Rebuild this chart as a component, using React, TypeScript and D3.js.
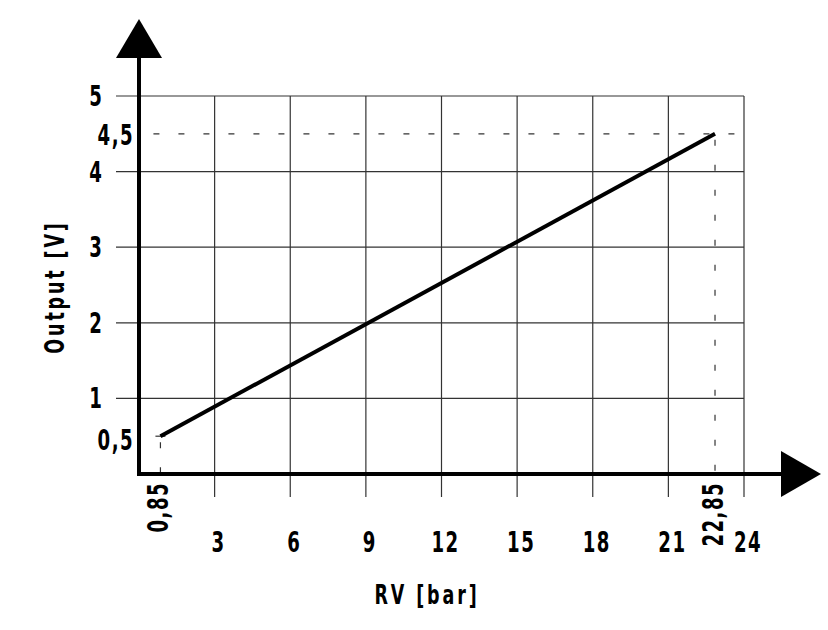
import React from 'react';
import * as d3 from 'd3';

// chart values
const lineX = [0.85, 22.85];
const lineY = [0.5, 4.5];
const xTicks = [3, 6, 9, 12, 15, 18, 21, 24];
const yTicks = [1, 2, 3, 4, 5];
const xMarks = [0.85, 22.85];
const yMarks = [0.5, 4.5];
const xTitle = 'RV [bar]';
const yTitle = 'Output [V]';

const W = 828;
const H = 630;
const FONT = '"DejaVu Sans Condensed", "DejaVu Sans", sans-serif';
const SQ = 0.72; // narrow technical lettering

const fmt = (v: number) => String(v).replace('.', ',');

const Label = ({ x, y, text, anchor = 'middle', rotate = 0, size = 28, spacing = 1 }: any) => (
  <text
    transform={`translate(${x},${y}) rotate(${rotate}) scale(${SQ},1)`}
    textAnchor={anchor}
    fontFamily={FONT}
    fontWeight="bold"
    fontSize={size}
    letterSpacing={spacing}
    fill="#000"
  >
    {text}
  </text>
);

export default function App() {
  const x = d3.scaleLinear().domain([0, 24]).range([139, 744]);
  const y = d3.scaleLinear().domain([0, 5]).range([474, 96]);

  const line = d3.line<number>()
    .x((_, i) => x(lineX[i]))
    .y((d) => y(d));

  const x0 = x(0);
  const y0 = y(0);
  const xEnd = x(24);
  const yTop = y(5);

  return (
    <svg width={W} height={H} style={{ position: 'absolute', left: 0, top: 0, background: '#fff' }}>
      {/* grid */}
      <g stroke="#333" strokeWidth={1.2}>
        {yTicks.map((t) => (
          <line key={'h' + t} x1={x0 - 23} x2={xEnd} y1={y(t)} y2={y(t)} />
        ))}
        {xTicks.map((t) => (
          <line key={'v' + t} x1={x(t)} x2={x(t)} y1={yTop} y2={y0 + 23} />
        ))}
      </g>

      {/* reference dashes */}
      <g stroke="#333" strokeWidth={1.2} strokeDasharray="6,19" fill="none">
        <line x1={x(xMarks[0]) - 7} x2={xEnd + 4} y1={y(yMarks[1])} y2={y(yMarks[1])} />
        <line x1={x(xMarks[1])} x2={x(xMarks[1])} y1={y(yMarks[1]) + 6} y2={y0} />
        <line x1={x(xMarks[0])} x2={x(xMarks[0])} y1={y(yMarks[0]) + 6} y2={y0} />
      </g>
      <line x1={x(xMarks[0]) - 5} x2={x(xMarks[0]) + 5} y1={y(yMarks[0])} y2={y(yMarks[0])} stroke="#333" strokeWidth={1.2} />

      {/* data line */}
      <path d={line(lineY) || ''} fill="none" stroke="#000" strokeWidth={4} />

      {/* axes */}
      <g stroke="#000" strokeWidth={4}>
        <line x1={x0} x2={x0} y1={y0 + 2} y2={56} />
        <line x1={x0 - 2} x2={784} y1={y0} y2={y0} />
      </g>
      <polygon points={`${x0},19 ${x0 - 23},58 ${x0 + 23},58`} fill="#000" />
      <polygon points={`821,${y0} 781,${y0 - 23} 781,${y0 + 23}`} fill="#000" />

      {/* y tick labels */}
      {yTicks.map((t) => (
        <Label key={'yl' + t} x={96} y={y(t) + 10} text={fmt(t)} />
      ))}
      {yMarks.map((t) => (
        <Label key={'ym' + t} x={134} y={y(t) + (t < 1 ? 14 : 11)} text={fmt(t)} anchor="end" spacing={2} />
      ))}

      {/* x tick labels */}
      {xTicks.map((t) => (
        <Label key={'xl' + t} x={x(t) + 4} y={552} text={fmt(t)} spacing={2} />
      ))}
      {xMarks.map((t) => (
        <Label key={'xm' + t} x={x(t) + 8} y={482} text={fmt(t)} anchor="end" rotate={-90} spacing={2} />
      ))}

      {/* titles */}
      <Label x={427} y={604} text={xTitle} size={27} spacing={4} />
      <Label x={64} y={287} text={yTitle} size={27} spacing={4} rotate={-90} />
    </svg>
  );
}
